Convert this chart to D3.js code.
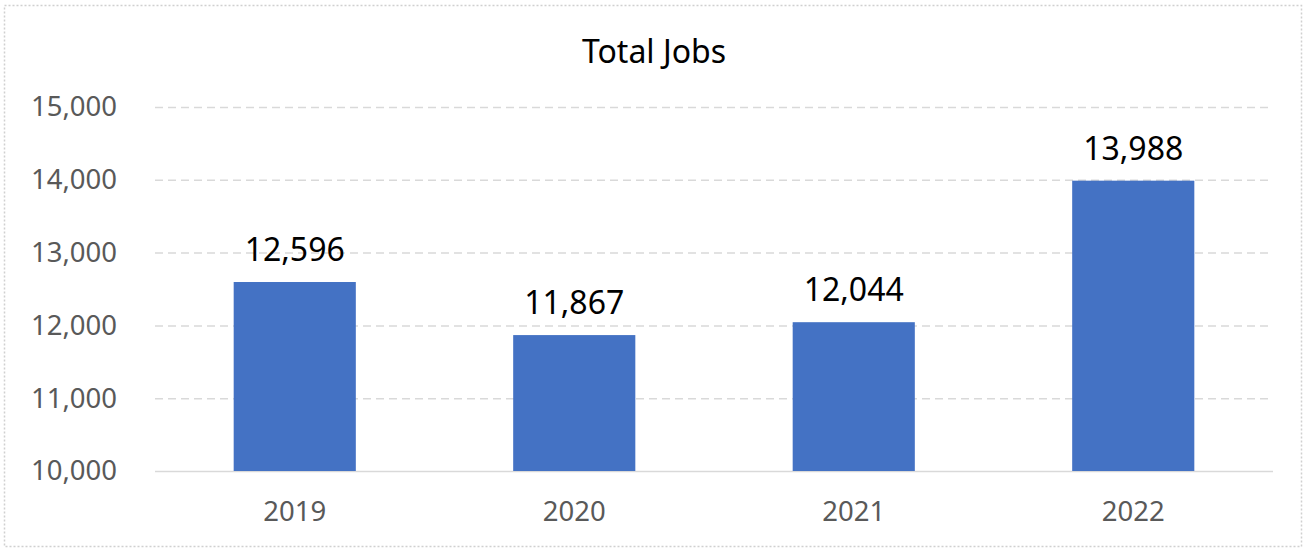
<!DOCTYPE html>
<html><head><meta charset="utf-8">
<script src="https://cdn.jsdelivr.net/npm/d3@7"></script>
<style>body{margin:0;background:#fff}svg{display:block}</style>
</head><body>
<svg id="chart" width="1304" height="549"></svg>
<script>
const title = "Total Jobs";
const categories = ["2019", "2020", "2021", "2022"];
const values = [12596, 11867, 12044, 13988];
const yTicks = [10000, 11000, 12000, 13000, 14000, 15000];

const W = 1304, H = 549;
const m = {left: 155, right: 31, top: 107, bottom: 78};
const svg = d3.select("#chart");
const font = "'Noto Sans', sans-serif";

svg.append("rect").attr("x", 4.5).attr("y", 5.5).attr("width", W - 7).attr("height", H - 8)
  .attr("fill", "#fff").attr("stroke", "#d0d0d0").attr("stroke-width", 1.5).attr("stroke-dasharray", "2,2");

const x = d3.scaleBand().domain(categories).range([m.left, W - m.right]).paddingInner(0.563).paddingOuter(0.2815);
const y = d3.scaleLinear().domain([10000, 15000]).range([H - m.bottom, m.top]);

const fmt = d3.format(",");

// gridlines
const yAxis = d3.axisLeft(y).tickValues(yTicks).tickSize(-(W - m.left - m.right)).tickFormat(fmt).tickPadding(38);
const gy = svg.append("g").attr("transform", `translate(${m.left},0)`).call(yAxis);
gy.select(".domain").remove();
gy.selectAll(".tick line").attr("stroke", "#d9d9d9").attr("stroke-width", 1.5)
  .attr("stroke-dasharray", d => d === 10000 ? null : "8,5");
gy.selectAll(".tick text").attr("fill", "#595959").style("font-family", font).style("font-size", "27.5px");

// x axis
const xAxis = d3.axisBottom(x).tickSize(0).tickPadding(30);
const gx = svg.append("g").attr("transform", `translate(0,${y(10000)})`).call(xAxis);
gx.select(".domain").remove();
gx.selectAll(".tick text").attr("fill", "#595959").style("font-family", font).style("font-size", "27.5px");

// bars
svg.append("g").selectAll("rect").data(values).join("rect")
  .attr("x", (d, i) => x(categories[i]))
  .attr("width", x.bandwidth())
  .attr("y", d => y(d))
  .attr("height", d => y(10000) - y(d))
  .attr("fill", "#4472C4");

// value labels
svg.append("g").selectAll("text").data(values).join("text")
  .attr("x", (d, i) => x(categories[i]) + x.bandwidth() / 2)
  .attr("y", d => y(d) - 21)
  .attr("text-anchor", "middle")
  .attr("fill", "#000")
  .style("font-family", font).style("font-size", "32px")
  .text(d => fmt(d));

// title
svg.append("text").attr("x", W / 2 + 2).attr("y", 63)
  .attr("text-anchor", "middle").attr("fill", "#000")
  .style("font-family", font).style("font-size", "32px").text(title);
</script>
</body></html>
